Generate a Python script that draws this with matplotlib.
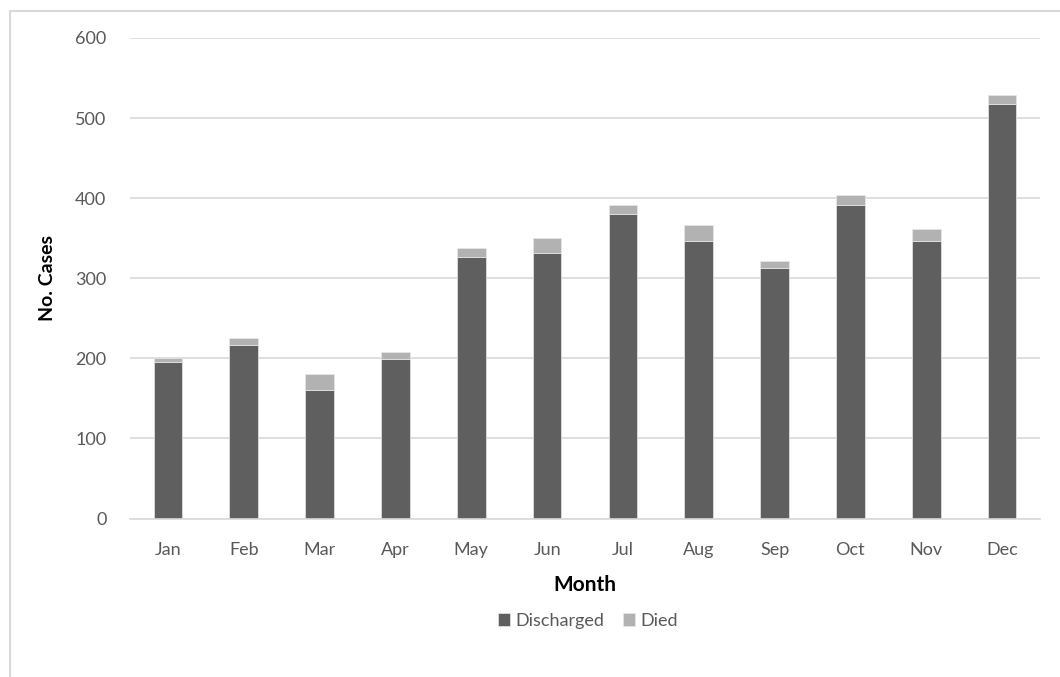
import matplotlib
matplotlib.use("Agg")
import matplotlib.pyplot as plt
from matplotlib.patches import Rectangle

months = ["Jan", "Feb", "Mar", "Apr", "May", "Jun", "Jul", "Aug", "Sep", "Oct", "Nov", "Dec"]
discharged = [196, 217, 161, 199, 326, 332, 380, 347, 313, 392, 347, 517]
died = [4, 9, 19, 9, 12, 18, 12, 19, 9, 12, 15, 12]
yticks = [0, 100, 200, 300, 400, 500, 600]

plt.rcParams['font.family'] = ['Lato', 'DejaVu Sans']

fig = plt.figure(figsize=(10.6, 6.77), dpi=100)
fig.patches.append(Rectangle((10/1060, -0.1), 1.2, 1 - 11/677 + 0.1, transform=fig.transFigure,
                             fill=False, edgecolor='#d9d9d9', linewidth=1.5))
ax = fig.add_axes([130/1060, 1 - 518.5/677, 910/1060, (518.5 - 38)/677])

x = list(range(len(months)))
ax.bar(x, discharged, width=0.38, color='#5f5f5f', edgecolor='#e8e8e8', linewidth=0.5,
       label='Discharged', zorder=3)
ax.bar(x, died, width=0.38, bottom=discharged, color='#b2b2b2', edgecolor='#e8e8e8',
       linewidth=0.5, label='Died', zorder=3)

ax.set_xlim(-0.5, 11.5)
ax.set_ylim(0, 600)
ax.set_yticks(yticks)
ax.set_xticks(x)
ax.set_xticklabels(months)
ax.yaxis.grid(True, color='#d9d9d9', linewidth=1.2, zorder=0)
for s in ['top', 'right', 'left']:
    ax.spines[s].set_visible(False)
ax.spines['bottom'].set_color('#d9d9d9')
ax.spines['bottom'].set_linewidth(1.2)
ax.spines['bottom'].set_zorder(4)
ax.tick_params(axis='both', length=0, labelsize=13, labelcolor='#595959')
ax.tick_params(axis='y', pad=17)
ax.tick_params(axis='x', pad=17)

ax.set_xlabel('Month', fontsize=15, fontweight='bold', color='black', labelpad=12)
ax.set_ylabel('No. Cases', fontsize=14, fontweight='bold', color='black', labelpad=14)

leg = fig.legend(loc='center', bbox_to_anchor=(588/1060, 1 - 621/677), ncol=2, frameon=False,
                 fontsize=13, handlelength=0.7, handleheight=0.7, handletextpad=0.3,
                 columnspacing=1.0)
for t in leg.get_texts():
    t.set_color('#595959')

fig.savefig('out.png', dpi=100)
